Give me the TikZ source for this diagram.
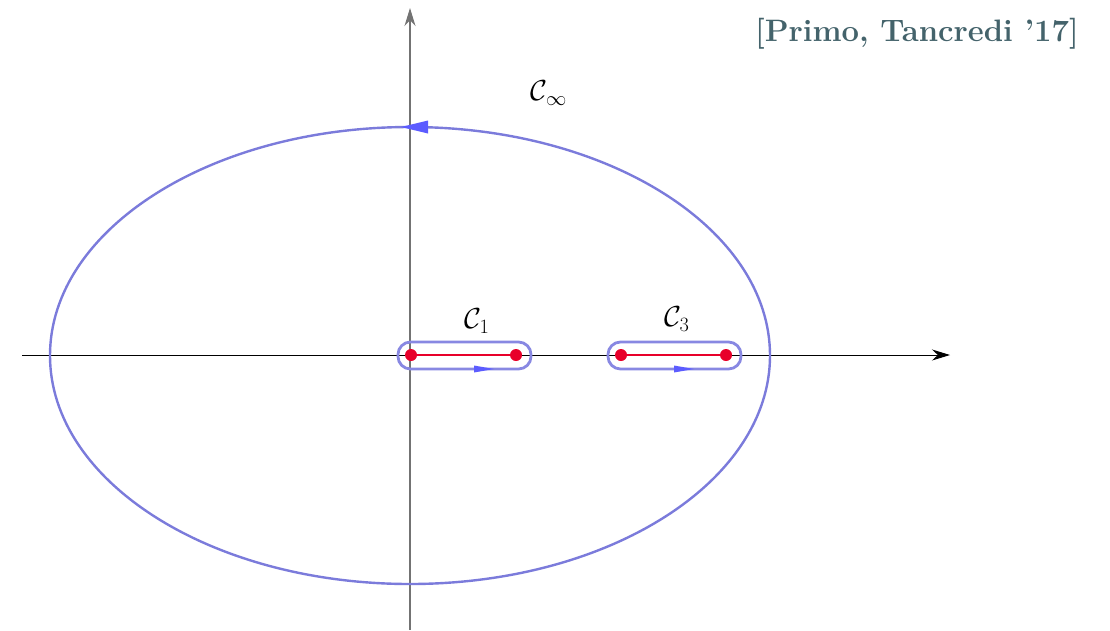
\RequirePackage{fix-cm}
\documentclass[tikz,border=0pt]{standalone}
\usetikzlibrary{arrows.meta}
\definecolor{ellblue}{HTML}{7B7BDB}
\definecolor{stadblue}{HTML}{8888E2}
\definecolor{tipblue}{HTML}{5C5CFF}
\definecolor{cutred}{HTML}{E8002A}
\definecolor{citecol}{HTML}{44636B}
\tikzset{
  axisline/.style={line width=1pt,-{Stealth[length=18pt,width=11pt]}},
  contour/.style={draw=ellblue,line width=2.4pt},
  stadium/.style={draw=stadblue,line width=2.8pt,rounded corners=12.5pt},
  branchpt/.style={circle,fill=cutred,inner sep=0pt,minimum size=12pt},
  cut/.style={draw=cutred,line width=2.2pt},
  lab/.style={font=\fontsize{29}{34}\selectfont,inner sep=0pt},
}
\begin{document}
\begin{tikzpicture}[x=1pt,y=-1pt]
\useasboundingbox (0,0) rectangle (1110,630);
% axes
\coordinate (xs) at (22,355);
\coordinate (xe) at (950,355);
\coordinate (ys) at (410,630);
\coordinate (ye) at (410,8);
\draw[axisline] (xs) -- (xe);
\draw[axisline,draw=black!55,line width=1.4pt] (ys) -- (ye);
% big contour
\coordinate (O) at (410,355.5);
\draw[contour] (O) ellipse [x radius=360, y radius=228.5];
\coordinate (etip) at (401,127);
\fill[tipblue] (etip) -- (428,120.5) -- (428,133.5) -- cycle;
% branch cuts
\node[branchpt] (a1) at (411,355) {};
\node[branchpt] (b1) at (516,355) {};
\node[branchpt] (a3) at (621,355) {};
\node[branchpt] (b3) at (726,355) {};
\draw[cut] (a1) -- (b1);
\draw[cut] (a3) -- (b3);
% stadium contours
\draw[stadium] (398,342) rectangle (531,369);
\draw[stadium] (608,342) rectangle (741,369);
\fill[tipblue] (494,369) -- (474,365.5) -- (474,372.5) -- cycle;
\fill[tipblue] (694,369) -- (674,365.5) -- (674,372.5) -- cycle;
% labels
\node[lab] (l1) at (477,321) {$\mathcal{C}_1$};
\node[lab] (l3) at (677,319) {$\mathcal{C}_3$};
\node[lab] (linf) at (549,93) {$\mathcal{C}_\infty$};
\node[anchor=east,inner sep=0pt,text=citecol,font=\fontsize{31}{36}\selectfont\bfseries] (cite) at (1079,34) {[Primo, Tancredi ’17]};
\end{tikzpicture}
\end{document}
